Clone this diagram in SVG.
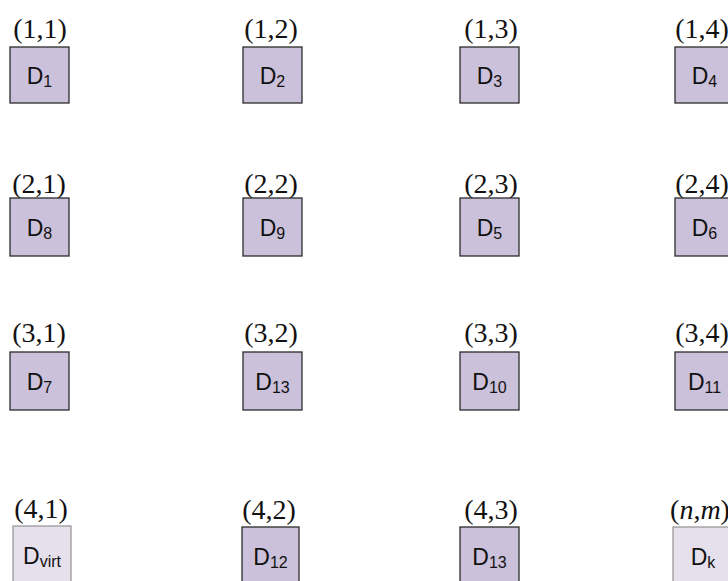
<svg xmlns="http://www.w3.org/2000/svg" width="728" height="581" viewBox="0 0 728 581">
<style>
.box{fill:#CCC1DA;stroke:#2b2b2b;stroke-width:1.3}
.lbox{fill:#E6E0EC;stroke:#9a9a9a;stroke-width:1.3}
.lab{font-family:"Liberation Serif","Times New Roman",serif;font-size:28px;fill:#111;text-anchor:middle}
.d{font-family:"Liberation Sans",Arial,sans-serif;font-size:23px;fill:#111;text-anchor:middle}
.s{font-size:16px}
</style>
<rect width="728" height="581" fill="#fff"/>
<g id="n11"><text class="lab" x="40" y="38">(1,1)</text><rect class="box" x="10" y="47" width="59" height="56"/><text class="d" x="39.5" y="84">D<tspan class="s" dy="3">1</tspan></text></g>
<g id="n12"><text class="lab" x="271" y="38">(1,2)</text><rect class="box" x="243" y="47" width="59" height="56"/><text class="d" x="272.5" y="84">D<tspan class="s" dy="3">2</tspan></text></g>
<g id="n13"><text class="lab" x="491" y="38">(1,3)</text><rect class="box" x="460" y="47" width="59" height="56"/><text class="d" x="489.5" y="84">D<tspan class="s" dy="3">3</tspan></text></g>
<g id="n14"><text class="lab" x="702" y="38">(1,4)</text><rect class="box" x="675" y="47" width="59" height="56"/><text class="d" x="704.5" y="84">D<tspan class="s" dy="3">4</tspan></text></g>

<g id="n21"><text class="lab" x="39" y="193">(2,1)</text><rect class="box" x="10" y="198" width="59" height="58"/><text class="d" x="39.5" y="236">D<tspan class="s" dy="3">8</tspan></text></g>
<g id="n22"><text class="lab" x="271" y="193">(2,2)</text><rect class="box" x="243" y="198" width="59" height="58"/><text class="d" x="272.5" y="236">D<tspan class="s" dy="3">9</tspan></text></g>
<g id="n23"><text class="lab" x="491" y="193">(2,3)</text><rect class="box" x="460" y="198" width="59" height="58"/><text class="d" x="489.5" y="236">D<tspan class="s" dy="3">5</tspan></text></g>
<g id="n24"><text class="lab" x="702" y="193">(2,4)</text><rect class="box" x="675" y="198" width="59" height="58"/><text class="d" x="704.5" y="236">D<tspan class="s" dy="3">6</tspan></text></g>

<g id="n31"><text class="lab" x="39" y="342">(3,1)</text><rect class="box" x="10" y="352" width="59" height="58"/><text class="d" x="39.5" y="390">D<tspan class="s" dy="3">7</tspan></text></g>
<g id="n32"><text class="lab" x="271" y="342">(3,2)</text><rect class="box" x="243" y="352" width="59" height="58"/><text class="d" x="272.5" y="390">D<tspan class="s" dy="3">13</tspan></text></g>
<g id="n33"><text class="lab" x="491" y="342">(3,3)</text><rect class="box" x="460" y="352" width="59" height="58"/><text class="d" x="489.5" y="390">D<tspan class="s" dy="3">10</tspan></text></g>
<g id="n34"><text class="lab" x="702" y="342">(3,4)</text><rect class="box" x="675" y="352" width="59" height="58"/><text class="d" x="704.5" y="390">D<tspan class="s" dy="3">11</tspan></text></g>

<g id="n41"><text class="lab" x="41" y="518">(4,1)</text><rect class="lbox" x="13" y="526" width="58" height="60"/><text class="d" x="42" y="564">D<tspan class="s" dy="3">virt</tspan></text></g>
<g id="n42"><text class="lab" x="269" y="519">(4,2)</text><rect class="box" x="242" y="527" width="57" height="60"/><text class="d" x="270.5" y="565">D<tspan class="s" dy="3">12</tspan></text></g>
<g id="n43"><text class="lab" x="491" y="519">(4,3)</text><rect class="box" x="460" y="527" width="59" height="60"/><text class="d" x="489.5" y="565">D<tspan class="s" dy="3">13</tspan></text></g>
<g id="nnm"><text class="lab" x="700" y="519">(<tspan font-style="italic">n</tspan>,<tspan font-style="italic">m</tspan>)</text><rect class="lbox" x="673" y="527" width="61" height="60"/><text class="d" x="703" y="565">D<tspan class="s" dy="3">k</tspan></text></g>
<g id="connectors"/>
</svg>
